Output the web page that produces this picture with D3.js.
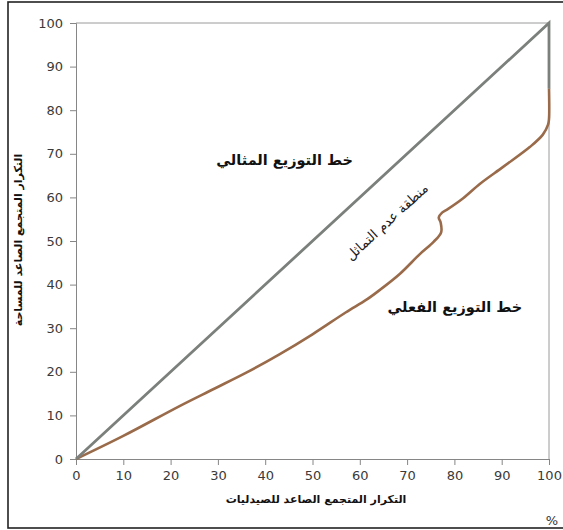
<!DOCTYPE html>
<html>
<head>
<meta charset="utf-8">
<script src="https://cdn.jsdelivr.net/npm/d3@7"></script>
<style>
  body { margin: 0; background: #fff; }
  svg { display: block; font-family: "DejaVu Sans", sans-serif; }
</style>
</head>
<body>
<div id="container"></div>
<script>
/* CONSTANTS AND GLOBALS */
const width = 563;
const height = 530;
const margin = { top: 23, right: 14, bottom: 71, left: 76 };

/* DATA */
const ticks = [0, 10, 20, 30, 40, 50, 60, 70, 80, 90, 100];

// equality line (gray)
const idealX = [0, 100, 100];
const idealY = [0, 100, 85];

// actual distribution (brown)
const actualX = [0, 10, 22, 29, 36, 43, 50, 57, 61.5, 64.5, 68.5, 72.7, 75.6, 77.2, 77.1, 76.7, 77.4, 78.6, 81.5, 85.5, 90.3, 96, 98.7, 99.8, 100, 100];
const actualY = [0, 5.3, 12.2, 16, 19.8, 24, 28.6, 33.6, 36.6, 39, 42.5, 47, 49.8, 52, 54.2, 55.4, 56.5, 57.3, 59.5, 63.2, 67, 71.6, 74.4, 76.7, 78, 85];

const labelIdeal = "خط التوزيع المثالي";
const labelActual = "خط التوزيع الفعلي";
const labelGap = "منطقة عدم التماثل";
const titleX = "التكرار المتجمع الصاعد للصيدليات";
const titleY = "التكرار المتجمع الصاعد للمساحة";

/* SCALES */
const x = d3.scaleLinear().domain([0, 100]).range([margin.left, width - margin.right]);
const y = d3.scaleLinear().domain([0, 100]).range([height - margin.bottom, margin.top]);

const svg = d3.select("#container")
  .append("svg")
  .attr("width", width)
  .attr("height", height);

// outer frame
svg.append("rect")
  .attr("x", 8).attr("y", 2)
  .attr("width", width + 10).attr("height", 526)
  .attr("fill", "none")
  .attr("stroke", "#222")
  .attr("stroke-width", 1.6);

// plot frame (top + right)
svg.append("path")
  .attr("d", `M${x(0)},${y(100)}H${x(100)}V${y(0)}`)
  .attr("fill", "none")
  .attr("stroke", "#9a9a9a")
  .attr("stroke-width", 1);

/* AXES */
const xAxis = svg.append("g")
  .attr("transform", `translate(0,${y(0)})`)
  .call(d3.axisBottom(x).tickValues(ticks).tickSize(6).tickPadding(6));

const yAxis = svg.append("g")
  .attr("transform", `translate(${x(0)},0)`)
  .call(d3.axisLeft(y).tickValues(ticks).tickSize(6).tickPadding(7));

[xAxis, yAxis].forEach(g => {
  g.select(".domain").attr("stroke", "#868686");
  g.selectAll(".tick line").attr("stroke", "#868686");
  g.selectAll(".tick text")
    .attr("fill", "#3a3a3a")
    .style("font-size", "13px")
    .style("font-family", "'DejaVu Sans', sans-serif");
});

/* LINES */
const line = d3.line()
  .x(d => x(d[0]))
  .y(d => y(d[1]));

svg.append("path")
  .datum(actualX.map((v, i) => [v, actualY[i]]))
  .attr("fill", "none")
  .attr("stroke", "#9a6b4a")
  .attr("stroke-width", 2.6)
  .attr("stroke-linejoin", "round")
  .attr("d", line.curve(d3.curveCatmullRom.alpha(0.5)));

svg.append("path")
  .datum(idealX.map((v, i) => [v, idealY[i]]))
  .attr("fill", "none")
  .attr("stroke", "#7b807c")
  .attr("stroke-width", 2.8)
  .attr("d", line.curve(d3.curveLinear));

/* LABELS */
svg.append("text")
  .attr("x", x(44.1)).attr("y", y(67.4))
  .attr("text-anchor", "middle")
  .attr("direction", "rtl")
  .style("font-size", "14.5px")
  .style("font-weight", "bold")
  .attr("fill", "#111")
  .text(labelIdeal);

svg.append("text")
  .attr("x", x(80.1)).attr("y", y(33.7))
  .attr("text-anchor", "middle")
  .attr("direction", "rtl")
  .style("font-size", "14.5px")
  .style("font-weight", "bold")
  .attr("fill", "#111")
  .text(labelActual);

const angle = -Math.atan((y(0) - y(100)) / (x(100) - x(0))) * 180 / Math.PI;
svg.append("text")
  .attr("transform", `translate(${x(66.4)},${y(53.6)}) rotate(${angle})`)
  .attr("text-anchor", "middle")
  .attr("direction", "rtl")
  .style("font-size", "13.5px")
  .attr("fill", "#222")
  .text(labelGap);

// axis titles
svg.append("text")
  .attr("x", 316).attr("y", 503)
  .attr("text-anchor", "middle")
  .attr("direction", "rtl")
  .style("font-size", "11px")
  .style("font-weight", "bold")
  .attr("fill", "#111")
  .text(titleX);

svg.append("text")
  .attr("transform", `translate(22,240) rotate(-90)`)
  .attr("text-anchor", "middle")
  .attr("direction", "rtl")
  .style("font-size", "11px")
  .style("font-weight", "bold")
  .attr("fill", "#111")
  .text(titleY);

svg.append("text")
  .attr("x", 552).attr("y", 525)
  .attr("text-anchor", "middle")
  .style("font-size", "13px")
  .attr("fill", "#333")
  .text("%");
</script>
</body>
</html>
